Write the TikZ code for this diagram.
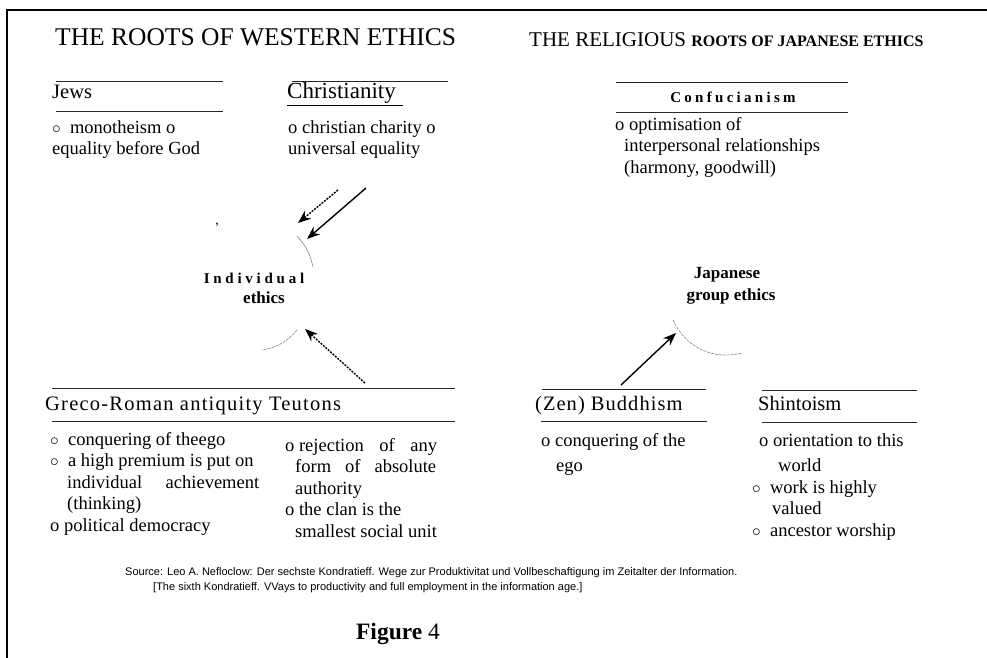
\documentclass[tikz,border=0pt]{standalone}
\usepackage{fontspec}
\setmainfont{Liberation Serif}
\newfontfamily\sourceFont{Liberation Sans}
\usepackage{tikz}
\usetikzlibrary{positioning}
\usetikzlibrary{arrows.meta}
\tikzstyle{canvas} = [x = 1pt, y = -1pt]
\tikzstyle{frameLine} = [color=black, line width = 1.6pt]
\tikzstyle{ruleLine} = [color=black!85, line width = .8pt]
\tikzstyle{titleText} = [anchor=west, inner sep=0pt, font=\fontsize{25.5}{28}\selectfont]
\tikzstyle{rootText} = [anchor=base west, inner sep=0pt, font=\fontsize{20.5}{24}\selectfont]
\tikzstyle{itemText} = [anchor=north west, inner sep=0pt, align=left, font=\fontsize{18.5}{21.5}\selectfont]
\tikzstyle{ethicsText} = [inner sep=0pt, font=\bfseries\fontsize{17}{20}\selectfont]
\tikzstyle{sourceText} = [anchor=west, inner sep=0pt, font=\sourceFont\fontsize{11}{13}\selectfont]
\tikzstyle{solidArrow} = [-{Stealth[length=13pt, width=10pt]}, line width = 1.4pt]
\tikzstyle{dottedArrow} = [-{Stealth[length=13pt, width=10pt]}, line width = 1.4pt, dash pattern = on 2pt off 1.2pt]
\tikzstyle{arcLine} = [color=black!55, line width = .5pt]
\newcommand{\ruleAt}[3]{\draw [ruleLine] (#1, #3) -- (#2, #3);}
\newcommand{\bul}{$\circ$\ \ }

\begin{document}
\begin{tikzpicture}[canvas]
  \useasboundingbox (0,0) rectangle (987,658);
  \draw [frameLine] (987,10) -- (7,10) -- (7,658);

  % titles
  \node [titleText] (westTitle) at (55,37) {THE ROOTS OF WESTERN ETHICS};
  \node [anchor=west, inner sep=0pt, font=\fontsize{21}{24}\selectfont] (eastTitle) at (529,40)
    {THE RELIGIOUS {\bfseries\fontsize{16}{18}\selectfont ROOTS OF JAPANESE ETHICS}};

  % western roots, top
  \ruleAt{56}{223}{81}
  \node [rootText] (jews) at (52,99) {Jews};
  \ruleAt{56}{223}{111}
  \node [itemText] (jewsItems) at (52,120) {\bul monotheism o\\equality before God};

  \ruleAt{292}{448}{81}
  \node [rootText, font=\fontsize{23}{26}\selectfont] (christianity) at (287,99) {\underline{Christianity\,\,}};
  \node [itemText] (christianityItems) at (288,120) {o christian charity o\\universal equality};

  % japanese roots, top
  \ruleAt{616}{848}{82}
  \node [inner sep=0pt, font=\bfseries\fontsize{15}{17}\selectfont\addfontfeature{LetterSpace=22}] (confucianism) at (733,97) {Confucianism};
  \ruleAt{616}{848}{112}
  \node [itemText] (confucianismItems) at (615,117) {o optimisation of\\\hspace*{9pt}interpersonal relationships\\\hspace*{9pt}(harmony, goodwill)};

  % individual ethics
  \node [inner sep=0pt, font=\fontsize{14}{16}\selectfont] (comma) at (217,225) {,};
  \node [ethicsText, font=\bfseries\fontsize{15}{18}\selectfont\addfontfeature{LetterSpace=25}] (individual) at (254,278) {Individual};
  \node [ethicsText] (individualEthics) at (264,298) {ethics};
  \coordinate (jewsTail) at (338,190);
  \coordinate (jewsTip) at (298,223);
  \coordinate (christianityTail) at (366,188);
  \coordinate (christianityTip) at (307,239);
  \coordinate (grecoTail) at (365,383);
  \coordinate (grecoTip) at (305,329);
  \draw [dottedArrow] (jewsTail) -- (jewsTip);
  \draw [solidArrow] (christianityTail) -- (christianityTip);
  \draw [dottedArrow] (grecoTail) -- (grecoTip);
  \draw [arcLine] (297,236) to [bend left=15] (313,267);
  \draw [arcLine, dash pattern = on 3pt off 1pt] (297,330) to [bend left=20] (262,350);

  % japanese group ethics
  \node [ethicsText] (japanese) at (727,275) {Japanese};
  \node [ethicsText] (groupEthics) at (731,296) {group ethics};
  \coordinate (buddhismTail) at (621,385);
  \coordinate (buddhismTip) at (676,333);
  \draw [solidArrow] (buddhismTail) -- (buddhismTip);
  \draw [arcLine, dash pattern = on 3pt off 1pt] (673,320) to [bend right=40] (742,353);

  % western roots, bottom
  \ruleAt{52}{455}{388}
  \node [rootText, font=\fontsize{20.5}{24}\selectfont\addfontfeature{LetterSpace=6}] (greco) at (45,410) {Greco-Roman antiquity Teutons};
  \ruleAt{52}{455}{421}
  \node [itemText] (grecoItems) at (50,432) {\bul conquering of theego\\\bul a high premium is put on\\\hspace*{17pt}\makebox[192pt][s]{individual achievement}\\\hspace*{17pt}(thinking)\\o political democracy};
  \node [itemText] (teutonsItems) at (285,438) {o \makebox[138pt][s]{rejection of any}\\\hspace*{10pt}\makebox[141pt][s]{form of absolute}\\\hspace*{10pt}authority\\o the clan is the\\\hspace*{10pt}smallest social unit};

  % japanese roots, bottom
  \ruleAt{542}{706}{389}
  \node [rootText, font=\fontsize{20.5}{24}\selectfont\addfontfeature{LetterSpace=5}] (buddhism) at (535,410) {(Zen) Buddhism};
  \ruleAt{541}{707}{421}
  \node [itemText] (buddhismItems) at (541,433) {o conquering of the\\[4pt]\hspace*{15pt}ego};

  \ruleAt{762}{917}{390}
  \node [rootText] (shintoism) at (758,410) {Shintoism};
  \ruleAt{762}{917}{422}
  \node [itemText] (shintoismItems) at (752,433) {\hspace*{7pt}o orientation to this\\[4pt]\hspace*{26pt}world\\\bul work is highly\\\hspace*{20pt}valued\\\bul ancestor worship};

  % source and caption
  \node [sourceText] (sourceLine) at (125,573) {Source: Leo A. Nefloclow: Der sechste Kondratieff. Wege zur Produktivitat und Vollbeschaftigung im Zeitalter der Information.};
  \node [sourceText] (sourceTranslation) at (153,588) {[The sixth Kondratieff. VVays to productivity and full employment in the information age.]};
  \node [inner sep=0pt, font=\fontsize{23.5}{27}\selectfont] (caption) at (398,634) {\textbf{Figure} 4};
\end{tikzpicture}
\end{document}
